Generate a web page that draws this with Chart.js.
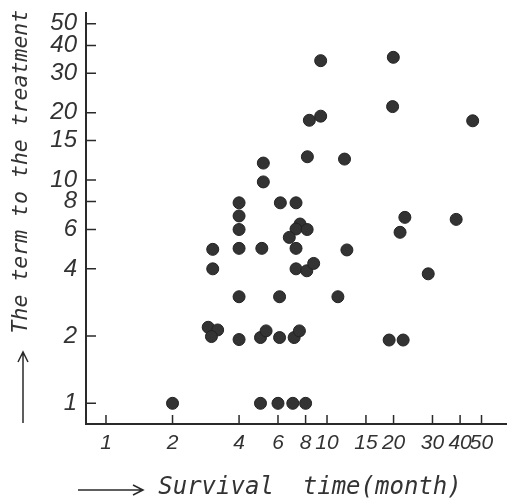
<!DOCTYPE html>
<html>
<head>
<meta charset="utf-8">
<script src="https://cdn.jsdelivr.net/npm/chart.js@4.4.1/dist/chart.umd.min.js"></script>
<style>
  html, body { margin: 0; padding: 0; background: #fff; }
  #wrap { width: 507px; height: 499px; }
</style>
</head>
<body>
<div id="wrap"><canvas id="survival"></canvas></div>
<script>
// Survival time (month) vs term to the treatment
var survivalMonths = [2, 5, 6, 7, 8,
  2.9, 3.2, 3.0, 4.0, 5.0, 5.3, 6.1, 7.1, 7.5,
  4, 6.1, 11.2,
  19.1, 22.1,
  3.04, 7.24, 8.1, 8.7, 28.7,
  3.04, 4, 5.07, 7.24, 12.3,
  4, 4, 4,
  6.15, 7.24,
  7.55, 7.24, 8.13, 6.75,
  21.4, 22.5, 38.4,
  5.15, 5.15, 8.15, 12.0,
  8.32, 9.36, 19.8, 45.6,
  9.36, 19.95];
var treatmentTerm = [1, 1, 1, 1, 1,
  2.19, 2.13, 1.99, 1.93, 1.97, 2.11, 1.97, 1.97, 2.11,
  3, 3, 3,
  1.92, 1.92,
  4.0, 4.0, 3.92, 4.23, 3.8,
  4.89, 4.94, 4.94, 4.94, 4.86,
  6, 6.9, 7.9,
  7.9, 7.9,
  6.35, 6.03, 6.0, 5.53,
  5.83, 6.8, 6.66,
  9.8, 11.9, 12.7, 12.4,
  18.5, 19.3, 21.3, 18.4,
  34.2, 35.4];

var xTicks = [1, 2, 4, 6, 8, 10, 15, 20, 30, 40, 50];
var yTicks = [1, 2, 4, 6, 8, 10, 15, 20, 30, 40, 50];

var ink = '#2a2a2a';

var points = survivalMonths.map(function (x, i) { return { x: x, y: treatmentTerm[i] }; });

// ticks on this chart point inwards, and the axis titles have arrows
var handDrawn = {
  id: 'handDrawn',
  afterDraw: function (chart) {
    var ctx = chart.ctx;
    var area = chart.chartArea;
    var xs = chart.scales.x, ys = chart.scales.y;
    ctx.save();
    ctx.strokeStyle = ink;
    ctx.lineWidth = 1.5;
    ctx.beginPath();
    xs.ticks.forEach(function (t) {
      var px = xs.getPixelForValue(t.value);
      ctx.moveTo(px, area.bottom);
      ctx.lineTo(px, area.bottom - 9);
    });
    ys.ticks.forEach(function (t) {
      var py = ys.getPixelForValue(t.value);
      ctx.moveTo(area.left, py);
      ctx.lineTo(area.left + 10, py);
    });
    ctx.stroke();

    // x arrow
    var ay = xs.bottom - 9;
    var x0 = area.left - 8, x1 = area.left + 57;
    ctx.beginPath();
    ctx.moveTo(x0, ay); ctx.lineTo(x1, ay);
    ctx.moveTo(x1 - 10, ay - 5); ctx.lineTo(x1, ay); ctx.lineTo(x1 - 10, ay + 5);
    ctx.stroke();

    // y arrow
    var ax = ys.left + 23;
    var y0 = area.bottom - 1, y1 = area.bottom - 72;
    ctx.beginPath();
    ctx.moveTo(ax, y0); ctx.lineTo(ax, y1);
    ctx.moveTo(ax - 5, y1 + 10); ctx.lineTo(ax, y1); ctx.lineTo(ax + 5, y1 + 10);
    ctx.stroke();
    ctx.restore();
  }
};

new Chart(document.getElementById('survival').getContext('2d'), {
  type: 'scatter',
  data: {
    datasets: [{
      data: points,
      pointRadius: 6,
      pointHoverRadius: 6,
      pointBackgroundColor: '#333',
      pointBorderColor: '#222',
      pointBorderWidth: 1
    }]
  },
  options: {
    responsive: true,
    maintainAspectRatio: false,
    animation: false,
    events: [],
    layout: { autoPadding: false, padding: { top: 13, right: 0, left: 0, bottom: 0 } },
    plugins: { legend: { display: false }, tooltip: { enabled: false } },
    scales: {
      x: {
        type: 'logarithmic',
        min: 0.812,
        max: 65.2,
        afterBuildTicks: function (scale) {
          scale.ticks = xTicks.map(function (v) { return { value: v }; });
        },
        afterFit: function (scale) {
          scale.height = 75;
          scale.paddingLeft = 0;
          scale.paddingRight = 0;
        },
        grid: { display: true, drawOnChartArea: false, drawTicks: false },
        border: { display: true, color: ink, width: 2 },
        ticks: {
          autoSkip: false,
          maxRotation: 0,
          minRotation: 0,
          padding: 7,
          color: '#333',
          font: { family: 'Liberation Sans', size: 21, style: 'italic' },
          callback: function (v) { return String(v); }
        },
        title: {
          display: true,
          align: 'start',
          text: '     Survival  time(month)',
          color: '#333',
          font: { family: 'DejaVu Sans Mono', size: 24, style: 'italic', lineHeight: 0.9 },
          padding: { top: 0, bottom: 0 }
        }
      },
      y: {
        type: 'logarithmic',
        min: 0.808,
        max: 55.9,
        afterBuildTicks: function (scale) {
          scale.ticks = yTicks.map(function (v) { return { value: v }; });
        },
        afterFit: function (scale) {
          scale.width = 86;
          scale.paddingTop = 0;
          scale.paddingBottom = 0;
        },
        grid: { display: true, drawOnChartArea: false, drawTicks: false },
        border: { display: true, color: ink, width: 2 },
        ticks: {
          autoSkip: false,
          padding: 9,
          color: '#333',
          font: { family: 'Liberation Sans', size: 24, style: 'italic' },
          callback: function (v) { return String(v); }
        },
        title: {
          display: true,
          align: 'start',
          text: '       The term to the treatment',
          color: '#333',
          font: { family: 'DejaVu Sans Mono', size: 21.5, style: 'italic', lineHeight: 1.2 },
          padding: { top: 9, bottom: 0 }
        }
      }
    }
  },
  plugins: [handDrawn]
});
</script>
</body>
</html>
